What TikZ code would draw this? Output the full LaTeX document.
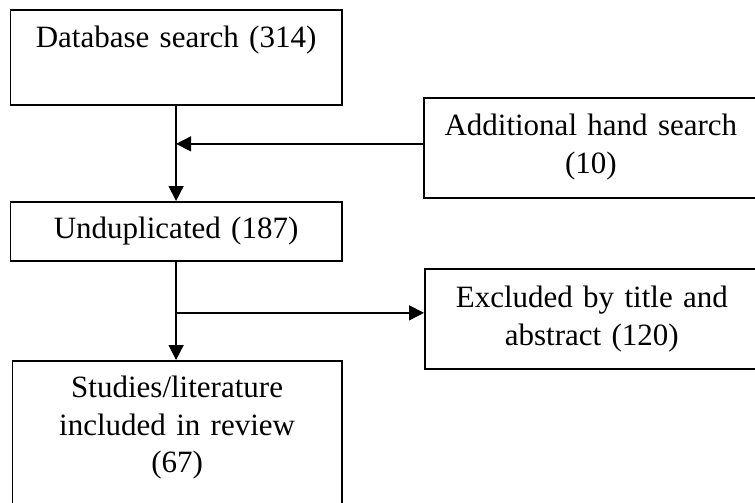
\documentclass[tikz,border=0pt]{standalone}
\usepackage{fontspec}
\setmainfont{Liberation Serif}
\usetikzlibrary{arrows.meta}

\begin{document}
\begin{tikzpicture}[x=1pt, y=-1pt,
        box/.style={draw, line width=1.7pt, inner sep=0pt, anchor=north west,
            align=center, font=\fontsize{31}{37.5}\selectfont},
        arr/.style={-{Triangle[length=15pt, width=15pt]}, line width=1.5pt}]
    \clip (0,0) rectangle (755,503);

    % Search stage
    \node[box, text width=331.5pt, text height=38pt, text depth=57pt] (db) at (9.5,9) {Database search (314)};
    \node[box, text width=334pt, text height=38pt, text depth=62pt] (add) at (423,97) {Additional hand search\\(10)};

    % Screening stage
    \node[box, text width=331.5pt, text height=37pt, text depth=22pt] (und) at (9.5,201) {Unduplicated (187)};
    \node[box, text width=334pt, text height=39pt, text depth=61pt] (exc) at (424,268) {Excluded by title and\\abstract (120)};

    % Result
    \node[box, text width=329.5pt, text height=37pt, text depth=120pt] (lit) at (11.5,360) {Studies/literature\\included in review\\(67)};

    % Arrows
    \draw[arr] (db.south) -- (und.north);
    \draw[arr] ([yshift=4pt]add.west) -- ([yshift=4pt]add.west -| db.south);
    \draw[arr] (und.south) -- (und.south |- lit.north);
    \draw[arr] ([yshift=6pt]exc.west -| und.south) -- ([yshift=6pt]exc.west);
\end{tikzpicture}
\end{document}
